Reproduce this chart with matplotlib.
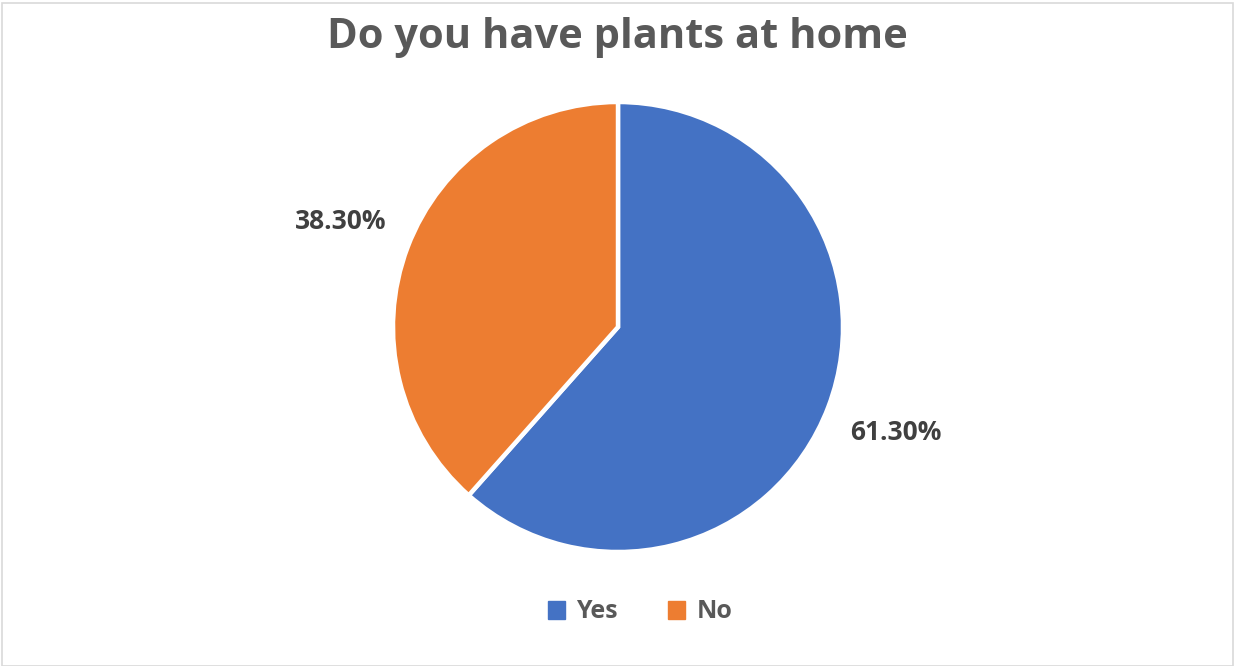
import matplotlib
matplotlib.use("Agg")
import matplotlib.pyplot as plt
from matplotlib.patches import Rectangle, Patch

categories = ["Yes", "No"]
values = [61.3, 38.3]
colors = ["#4472C4", "#ED7D31"]
title = "Do you have plants at home"

plt.rcParams['font.family'] = ['Open Sans', 'DejaVu Sans']

W, H = 1235, 666
fig = plt.figure(figsize=(W / 100, H / 100), dpi=100)
fig.patch.set_facecolor("white")

# border
fig.patches.append(Rectangle((2 / W, 0), 1 - 4 / W, 1 - 3 / H, transform=fig.transFigure,
                             fill=False, edgecolor="#D9D9D9", linewidth=1.2))

cx, cy, r = 618, 327, 225
ax = fig.add_axes([(cx - r) / W, (H - cy - r) / H, 2 * r / W, 2 * r / H])
wedges, texts, autotexts = ax.pie(
    values, colors=colors, startangle=90, counterclock=False,
    autopct=lambda p: f"{p * sum(values) / 100:.2f}%", pctdistance=1.32,
    wedgeprops=dict(edgecolor="white", linewidth=3.2),
    textprops=dict(fontsize=19, fontweight="bold", color="#404040"))
ax.set_xlim(-1, 1)
ax.set_ylim(-1, 1)
ax.set_aspect("auto")
ax.axis("off")

fig.text(0.5, 1 - 37 / H, title, ha="center", va="center", fontsize=30,
         fontweight="bold", color="#595959")

handles = [Patch(facecolor=c, edgecolor=c) for c in colors]
fig.legend(handles, categories, loc="center", bbox_to_anchor=(640 / W, 1 - 612 / H),
           ncol=2, frameon=False, handlelength=0.7, handleheight=0.7,
           handletextpad=0.45, columnspacing=2.0,
           prop=dict(weight="bold", size=18))
for t in fig.legends[0].get_texts():
    t.set_color("#595959")

fig.savefig("out.png", dpi=100)
